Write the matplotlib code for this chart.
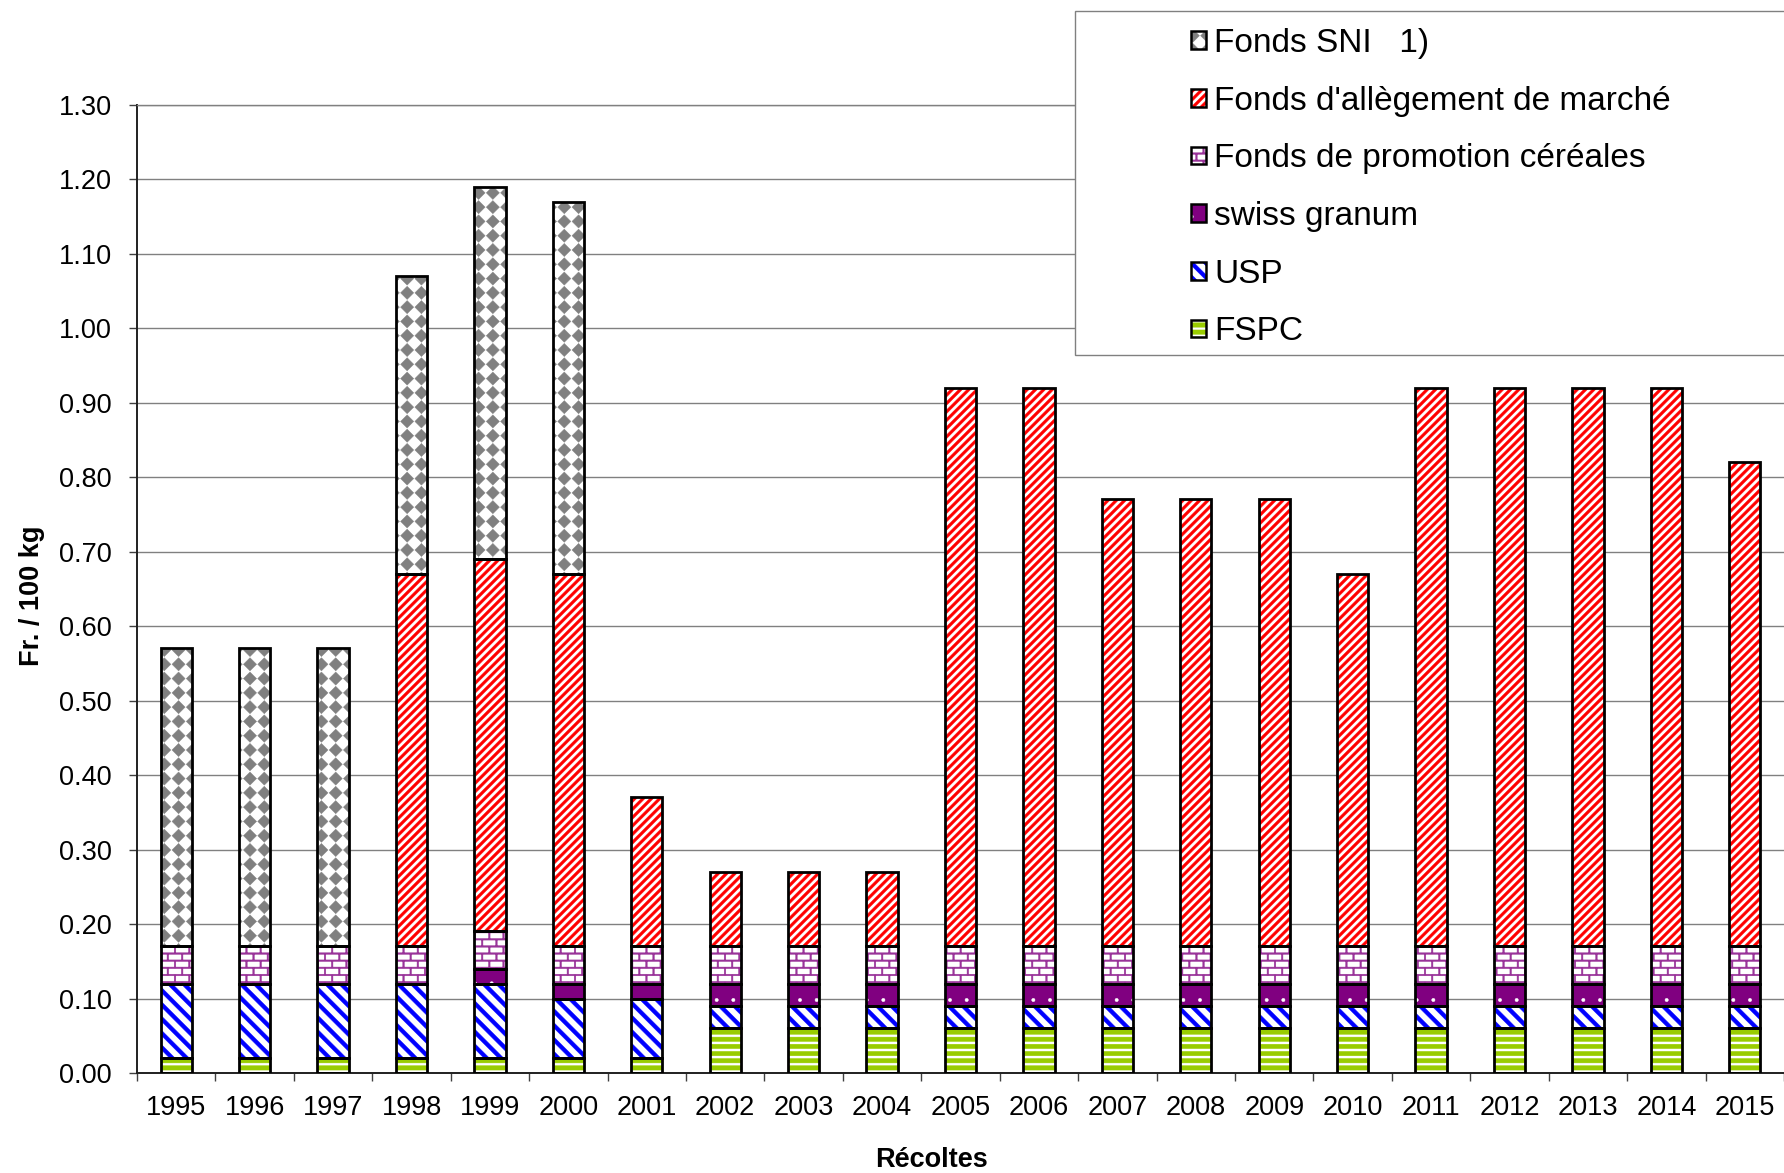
import warnings
import numpy as np
import matplotlib
matplotlib.use('Agg')
import matplotlib.pyplot as plt
import matplotlib.hatch as mhatch
from matplotlib.path import Path
from matplotlib.patches import Patch, Rectangle
from matplotlib.ticker import FormatStrFormatter, FixedLocator

warnings.filterwarnings('ignore')
plt.rcParams['font.family'] = ['Liberation Sans', 'DejaVu Sans']
plt.rcParams['hatch.linewidth'] = 0.3

# ---------------- data ----------------
years = ['1995', '1996', '1997', '1998', '1999', '2000', '2001', '2002', '2003', '2004',
         '2005', '2006', '2007', '2008', '2009', '2010', '2011', '2012', '2013', '2014', '2015']
fspc = [0.02, 0.02, 0.02, 0.02, 0.02, 0.02, 0.02, 0.06, 0.06, 0.06,
        0.06, 0.06, 0.06, 0.06, 0.06, 0.06, 0.06, 0.06, 0.06, 0.06, 0.06]
usp = [0.10, 0.10, 0.10, 0.10, 0.10, 0.08, 0.08, 0.03, 0.03, 0.03,
       0.03, 0.03, 0.03, 0.03, 0.03, 0.03, 0.03, 0.03, 0.03, 0.03, 0.03]
swiss_granum = [0.00, 0.00, 0.00, 0.00, 0.02, 0.02, 0.02, 0.03, 0.03, 0.03,
                0.03, 0.03, 0.03, 0.03, 0.03, 0.03, 0.03, 0.03, 0.03, 0.03, 0.03]
promotion = [0.05, 0.05, 0.05, 0.05, 0.05, 0.05, 0.05, 0.05, 0.05, 0.05,
             0.05, 0.05, 0.05, 0.05, 0.05, 0.05, 0.05, 0.05, 0.05, 0.05, 0.05]
allegement = [0.00, 0.00, 0.00, 0.50, 0.50, 0.50, 0.20, 0.10, 0.10, 0.10,
              0.75, 0.75, 0.60, 0.60, 0.60, 0.50, 0.75, 0.75, 0.75, 0.75, 0.65]
sni = [0.40, 0.40, 0.40, 0.40, 0.50, 0.50, 0.00, 0.00, 0.00, 0.00,
       0.00, 0.00, 0.00, 0.00, 0.00, 0.00, 0.00, 0.00, 0.00, 0.00, 0.00]
yticks = [0.0, 0.1, 0.2, 0.3, 0.4, 0.5, 0.6, 0.7, 0.8, 0.9, 1.0, 1.1, 1.2, 1.3]


# ---------------- custom (filled) hatch patterns ----------------
class PolyHatch(mhatch.HatchPatternBase):
    char = '?'

    def __init__(self, hatch, density):
        if hatch.count(self.char) == 0:
            self.polys = []
        else:
            self.polys = self.make_polys()
        self.num_vertices = 5 * len(self.polys)

    def make_polys(self):
        return []

    def set_vertices_and_codes(self, vertices, codes):
        verts = []
        cds = []
        for p in self.polys:
            verts += list(p) + [p[0]]
            cds += [Path.MOVETO, Path.LINETO, Path.LINETO, Path.LINETO, Path.CLOSEPOLY]
        vertices[:] = np.array(verts, dtype=float)
        codes[:] = cds


def hrect(x0, x1, y0, y1):
    return [(x0, y0), (x1, y0), (x1, y1), (x0, y1)]


class HStripe(PolyHatch):          # horizontal stripes
    char = 'G'
    n, w = 14, 0.044

    def make_polys(self):
        out = []
        for i in range(self.n):
            y = (i + 0.5) / self.n
            out.append(hrect(-0.1, 1.1, y - self.w / 2, y + self.w / 2))
        return out


class NEStripe(PolyHatch):         # "/" stripes
    char = 'R'
    n, w = 12, 0.038

    def make_polys(self):
        out = []
        w = self.w
        for i in range(-self.n - 2, self.n + 3):
            c = i / self.n
            out.append([(c - w / 2 - 0.5, -0.5), (c + w / 2 - 0.5, -0.5),
                        (c + w / 2 + 1.5, 1.5), (c - w / 2 + 1.5, 1.5)])
        return out


class SEStripe(PolyHatch):         # "\" stripes
    char = 'U'
    n, w = 7, 0.055

    def make_polys(self):
        out = []
        w = self.w
        for i in range(-2, 2 * self.n + 3):
            c = i / self.n
            out.append([(c - w / 2 + 0.5, -0.5), (c + w / 2 + 0.5, -0.5),
                        (c + w / 2 - 1.5, 1.5), (c - w / 2 - 1.5, 1.5)])
        return out


class BrickHatch(PolyHatch):
    char = 'B'
    rows, cols, t = 14, 7, 0.016

    def make_polys(self):
        out = []
        h = 1.0 / self.rows
        t = self.t
        for i in range(self.rows):
            y = (i + 0.5) * h
            out.append(hrect(-0.1, 1.1, y - t / 2, y + t / 2))
        for i in range(-1, self.rows):
            y0 = (i + 0.5) * h
            y1 = (i + 1.5) * h
            off = 0.5 / self.cols if (i % 2) else 0.0
            for j in range(self.cols):
                xx = j / self.cols + off + 0.25 / self.cols
                out.append(hrect(xx - t / 2, xx + t / 2, y0, y1))
        return out


class DiamondHatch(PolyHatch):
    char = 'D'
    n, r = 7, 0.46

    def make_polys(self):
        out = []
        s = 1.0 / self.n
        r = self.r * s
        for i in range(self.n):
            for j in range(self.n):
                cx = (i + 0.5) * s
                cy = (j + 0.5) * s
                out.append([(cx, cy - r), (cx + r, cy), (cx, cy + r), (cx - r, cy)])
        return out


for cls in (HStripe, NEStripe, SEStripe, BrickHatch, DiamondHatch):
    mhatch._hatch_types.append(cls)

# ---------------- figure ----------------
W, H = 1784, 1173
fig = plt.figure(figsize=(W / 100, H / 100), dpi=100)
left, right, top, bottom_px = 137, 1784, 104.7, 1073
ax = fig.add_axes([left / W, 1 - bottom_px / H, (right - left) / W, (bottom_px - top) / H])

x = np.arange(len(years))
width = 0.40

# (values, label, facecolor, hatchcolor, hatch)
series = [
    (fspc, 'FSPC', 'white', '#99CC00', 'G'),
    (usp, 'USP', 'white', '#0000FF', 'U'),
    (swiss_granum, 'swiss granum', '#800080', 'white', '.'),
    (promotion, 'Fonds de promotion céréales', 'white', '#993399', 'B'),
    (allegement, "Fonds d'allègement de marché", 'white', '#FF0000', 'R'),
    (sni, 'Fonds SNI   1)', 'white', '#808080', 'D'),
]

base = np.zeros(len(years))
handles = []
labels = []
for vals, label, face, hcol, hatch in series:
    v = np.array(vals, dtype=float)
    m = v > 0
    ax.bar(x[m], v[m], width, bottom=base[m], facecolor=face, edgecolor=hcol,
           linewidth=0, hatch=hatch, zorder=2)
    ax.bar(x[m], v[m], width, bottom=base[m], facecolor='none', edgecolor='black',
           linewidth=2.0, zorder=3)
    hp = Patch(facecolor=face, edgecolor=hcol, hatch=hatch, linewidth=0)
    handles.append((hp, Patch(facecolor='none', edgecolor='black', linewidth=1.8)))
    labels.append(label)
    base += v

ax.set_xlim(-0.5, len(years) - 0.5)
ax.set_ylim(0, 1.30)
ax.set_axisbelow(True)
ax.yaxis.grid(True, color='#808080', linewidth=1.0, zorder=0)

ax.set_yticks(yticks)
ax.yaxis.set_major_formatter(FormatStrFormatter('%.2f'))
ax.set_xticks(x)
ax.set_xticklabels(years)
ax.xaxis.set_minor_locator(FixedLocator(np.arange(-0.5, len(years), 1.0)))
ax.tick_params(axis='x', which='major', length=0, pad=16, labelsize=19.5)
ax.tick_params(axis='x', which='minor', length=6, width=1, color='#404040', direction='out')
ax.tick_params(axis='y', which='major', length=6, width=1, color='#404040', direction='out',
               pad=12, labelsize=19.5)

ax.spines['right'].set_visible(False)
ax.spines['top'].set_color('#808080')
ax.spines['top'].set_linewidth(1.0)
ax.spines['left'].set_color('#202020')
ax.spines['left'].set_linewidth(1.4)
ax.spines['bottom'].set_color('#202020')
ax.spines['bottom'].set_linewidth(1.4)

fig.text(32 / W, 1 - 596 / H, 'Fr. / 100 kg', rotation=90, ha='center', va='center',
         fontsize=19.5, fontweight='bold')
fig.text(932 / W, 1 - 1167 / H, 'Récoltes', ha='center', va='baseline',
         fontsize=19.5, fontweight='bold')

# legend frame
frame = Rectangle((1075 / W, 1 - 355 / H), 0.5, (355 - 11.4) / H, transform=fig.transFigure,
                  facecolor='white', edgecolor='#808080', linewidth=1.0, zorder=4)
fig.add_artist(frame)

leg = fig.legend(handles[::-1], labels[::-1], loc='upper left',
                 bbox_to_anchor=(1191 / W, 1 - 28 / H), frameon=False,
                 borderpad=0, borderaxespad=0, handlelength=0.45, handleheight=0.45,
                 handletextpad=0.25, labelspacing=0.80, prop={'size': 24})
leg.set_zorder(5)

fig.savefig('out.png', dpi=100)
